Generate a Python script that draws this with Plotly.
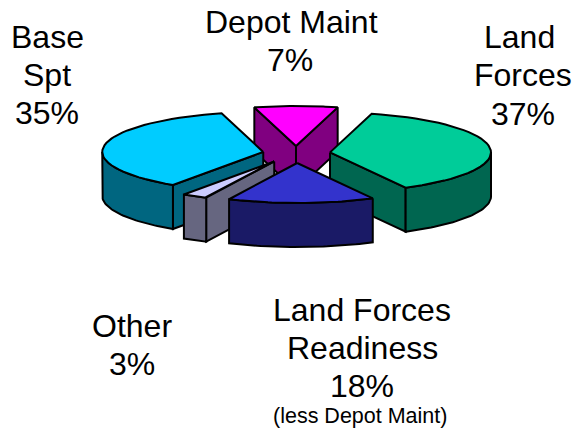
import math
import plotly.graph_objects as go

categories = ["Depot Maint", "Land Forces", "Land Forces Readiness", "Other", "Base Spt"]
values = [7, 37, 18, 3, 35]
top_colors = ["#FF00FF", "#00CC99", "#3333CC", "#CCCCFF", "#00CCFF"]
wall_colors = ["#800080", "#006650", "#1A1A66", "#666680", "#006680"]
pulls = [0.2, 0.215, 0.225, 0.23, 0.21]
draw_order = [0, 4, 1, 3, 2]

CX, CY, RX, RY, DEPTH, WARP = 296, 154, 161, 40, 44, 11
START = -values[0] * 3.6 / 2
LW = 2

def warp(t):
    return t + WARP * math.sin(math.radians(t))

def pt(t, ox, oy, r=1.0, dz=0):
    a = math.radians(t)
    return ox + r * RX * math.sin(a), oy - r * RY * math.cos(a) + dz

def arc(a, b, ox, oy, dz=0, n=40):
    return [pt(a + (b - a) * i / n, ox, oy, dz=dz) for i in range(n + 1)]

fig = go.Figure()

def poly(points, color):
    xs = [p[0] for p in points] + [points[0][0]]
    ys = [p[1] for p in points] + [points[0][1]]
    fig.add_trace(go.Scatter(x=xs, y=ys, mode="lines", fill="toself", fillcolor=color,
                             line=dict(color="black", width=LW), hoverinfo="skip",
                             showlegend=False))

edges = [START]
for v in values:
    edges.append(edges[-1] + v * 3.6)

for i in draw_order:
    a0, a1 = edges[i], edges[i + 1]
    mid = (a0 + a1) / 2
    ox, oy = pt(mid, CX, CY, r=pulls[i])
    w0, w1 = warp(a0), warp(a1)
    apex = (ox, oy)
    apex_d = (ox, oy + DEPTH)
    # cut faces that look towards the viewer
    if math.sin(math.radians(w0)) < 0:
        poly([apex, pt(w0, ox, oy), pt(w0, ox, oy, dz=DEPTH), apex_d], wall_colors[i])
    if math.sin(math.radians(w1)) > 0:
        poly([apex, pt(w1, ox, oy), pt(w1, ox, oy, dz=DEPTH), apex_d], wall_colors[i])
    # outer rim, front half only
    lo, hi = max(w0, 90), min(w1, 270)
    if lo < hi:
        poly(arc(lo, hi, ox, oy) + arc(hi, lo, ox, oy, dz=DEPTH), wall_colors[i])
    poly([apex] + arc(w0, w1, ox, oy), top_colors[i])

label_lines = [
    ("Depot Maint", 291, 22, 32), (f"{values[0]}%", 290, 60, 32),
    ("Base", 47, 37, 32), ("Spt", 47, 75, 32), (f"{values[4]}%", 47, 113, 32),
    ("Land", 519, 37, 32), ("Forces", 523, 75, 32), (f"{values[1]}%", 523, 114, 32),
    ("Other", 132, 326, 32), (f"{values[3]}%", 132, 364, 32),
    ("Land Forces", 362, 310, 32), ("Readiness", 362, 348, 32), (f"{values[2]}%", 362, 386, 32),
    ("(less Depot Maint)", 360, 416, 21.5),
]
annotations = [dict(x=x, y=y, text=t, showarrow=False, xref="x", yref="y",
                    xanchor="center", yanchor="middle",
                    font=dict(family="Liberation Sans", size=s, color="black"))
               for t, x, y, s in label_lines]

fig.update_layout(
    width=584, height=431, margin=dict(l=0, r=0, t=0, b=0),
    paper_bgcolor="white", plot_bgcolor="white", showlegend=False,
    xaxis=dict(range=[0, 584], visible=False, fixedrange=True),
    yaxis=dict(range=[431, 0], visible=False, fixedrange=True),
    annotations=annotations,
)
fig.write_html("out.html", config={"displayModeBar": False},
               post_script="document.body.style.margin='0';document.body.style.overflow='hidden';")
